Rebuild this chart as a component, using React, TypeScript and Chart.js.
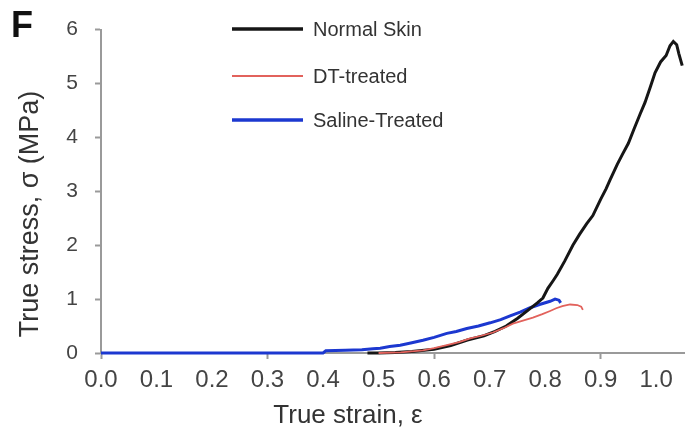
import { useEffect, useRef } from 'react';
import { Chart, registerables } from 'chart.js';

Chart.register(...registerables);

const panelLabel = 'F';
const xTitle = 'True strain, ε';
const yTitle = 'True stress, σ (MPa)';
const seriesNames = ['Normal Skin', 'DT-treated', 'Saline-Treated'];
const seriesColors = ['#161616', '#e2625c', '#1c38d0'];

const normalStrain = [0.48, 0.5, 0.53, 0.56, 0.6, 0.63, 0.66, 0.69, 0.71, 0.73, 0.75, 0.77, 0.786, 0.796, 0.805, 0.815, 0.822, 0.835, 0.85, 0.862, 0.875, 0.886, 0.9, 0.91, 0.917, 0.93, 0.94, 0.95, 0.96, 0.971, 0.98, 0.99, 0.998, 1.008, 1.018, 1.025, 1.031, 1.037, 1.041, 1.047];
const normalStress = [0, 0, 0.01, 0.03, 0.07, 0.14, 0.24, 0.32, 0.4, 0.5, 0.64, 0.8, 0.93, 1.02, 1.2, 1.35, 1.46, 1.7, 2.0, 2.2, 2.4, 2.55, 2.85, 3.05, 3.21, 3.5, 3.7, 3.89, 4.15, 4.43, 4.65, 4.95, 5.2, 5.4, 5.52, 5.7, 5.78, 5.72, 5.55, 5.33];

const dtStrain = [0.5, 0.54, 0.58, 0.6, 0.623, 0.645, 0.665, 0.685, 0.706, 0.725, 0.742, 0.76, 0.778, 0.795, 0.809, 0.82, 0.831, 0.845, 0.858, 0.865, 0.868];
const dtStress = [0, 0.01, 0.05, 0.09, 0.145, 0.2, 0.27, 0.32, 0.38, 0.46, 0.545, 0.6, 0.655, 0.72, 0.78, 0.83, 0.87, 0.9, 0.89, 0.86, 0.8];

const salineStrain = [0, 0.4, 0.405, 0.44, 0.47, 0.49, 0.503, 0.52, 0.539, 0.56, 0.58, 0.6, 0.623, 0.64, 0.659, 0.68, 0.701, 0.72, 0.737, 0.755, 0.773, 0.79, 0.809, 0.818, 0.825, 0.828];
const salineStress = [0, 0, 0.04, 0.05, 0.06, 0.08, 0.09, 0.12, 0.145, 0.19, 0.236, 0.29, 0.364, 0.4, 0.455, 0.5, 0.56, 0.62, 0.69, 0.76, 0.84, 0.9, 0.96, 1.0, 0.98, 0.93];

const xTickValues = [0, 0.1, 0.2, 0.3, 0.4, 0.5, 0.6, 0.7, 0.8, 0.9, 1.0];
const xTickMarked = [0, 0.3, 0.6, 0.9];
const yTickValues = [0, 1, 2, 3, 4, 5, 6];

const pts = (xs: number[], ys: number[]) => xs.map((x, i) => ({ x, y: ys[i] }));

export default function App() {
  const ref = useRef<HTMLCanvasElement>(null);
  useEffect(() => {
    document.body.style.margin = '0';
    const overlay = {
      id: 'overlay',
      afterDraw(chart: any) {
        const ctx = chart.ctx as CanvasRenderingContext2D;
        ctx.save();
        ctx.fillStyle = '#111';
        ctx.font = 'bold 36px "Liberation Sans"';
        ctx.textAlign = 'center';
        ctx.textBaseline = 'middle';
        ctx.fillText(panelLabel, 22, 27);

        ctx.fillStyle = '#333';
        ctx.font = '26px "Liberation Sans"';
        ctx.fillText(xTitle, 348, 416);

        ctx.save();
        ctx.translate(31, 214);
        ctx.rotate(-Math.PI / 2);
        ctx.font = '27px "Liberation Sans"';
        ctx.fillText(yTitle, 0, 0);
        ctx.restore();

        const rows = [29, 76, 120];
        const widths = [3.5, 2, 3.5];
        ctx.textAlign = 'left';
        ctx.font = '20px "Liberation Sans"';
        seriesNames.forEach((name, i) => {
          ctx.strokeStyle = seriesColors[i];
          ctx.lineWidth = widths[i];
          ctx.beginPath();
          ctx.moveTo(232, rows[i]);
          ctx.lineTo(303, rows[i]);
          ctx.stroke();
          ctx.fillStyle = '#333';
          ctx.fillText(name, 313, rows[i] + 1);
        });
        ctx.restore();
      },
    };
    const chart = new Chart(ref.current!, {
      type: 'line',
      data: {
        datasets: [
          {
            label: seriesNames[1],
            data: pts(dtStrain, dtStress),
            borderColor: seriesColors[1],
            borderWidth: 1.8,
            pointRadius: 0,
            tension: 0,
            clip: 6,
            order: 0,
          },
          {
            label: seriesNames[0],
            data: pts(normalStrain, normalStress),
            borderColor: seriesColors[0],
            borderWidth: 3,
            pointRadius: 0,
            tension: 0,
            clip: 6,
            order: 1,
          },
          {
            label: seriesNames[2],
            data: pts(salineStrain, salineStress),
            borderColor: seriesColors[2],
            borderWidth: 3,
            pointRadius: 0,
            tension: 0,
            clip: 6,
            order: 2,
          },
        ],
      },
      options: {
        responsive: false,
        animation: false,
        events: [],
        layout: { padding: { top: 23, right: 0, left: 0, bottom: 0 } },
        plugins: { legend: { display: false }, tooltip: { enabled: false } },
        scales: {
          x: {
            type: 'linear',
            min: 0,
            max: 1.052,
            afterBuildTicks: (s: any) => {
              s.ticks = xTickValues.map((v) => ({ value: v }));
            },
            afterFit: (s: any) => {
              s.height = 75;
            },
            ticks: {
              autoSkip: false,
              maxRotation: 0,
              padding: 7,
              color: '#444',
              font: { family: 'Liberation Sans', size: 24 },
              callback: (v: any) => Number(v).toFixed(1),
            },
            grid: {
              drawOnChartArea: false,
              drawTicks: true,
              tickLength: 6,
              tickWidth: 2,
              tickColor: (c: any) =>
                c.tick && xTickMarked.some((m) => Math.abs(m - c.tick.value) < 1e-6) ? '#9a9a9a' : 'rgba(0,0,0,0)',
            },
            border: { color: '#9a9a9a', width: 2 },
          },
          y: {
            type: 'linear',
            min: 0,
            max: 6,
            afterBuildTicks: (s: any) => {
              s.ticks = yTickValues.map((v) => ({ value: v }));
            },
            afterFit: (s: any) => {
              s.width = 101;
            },
            ticks: {
              padding: 17,
              color: '#444',
              font: { family: 'Liberation Sans', size: 21 },
            },
            grid: {
              drawOnChartArea: false,
              drawTicks: true,
              tickLength: 6,
              tickWidth: 2,
              tickColor: '#9a9a9a',
            },
            border: { color: '#9a9a9a', width: 2 },
          },
        },
      },
      plugins: [overlay],
    } as any);
    return () => chart.destroy();
  }, []);
  return (
    <div style={{ width: 685, height: 428 }}>
      <canvas ref={ref} width={685} height={428} />
    </div>
  );
}
